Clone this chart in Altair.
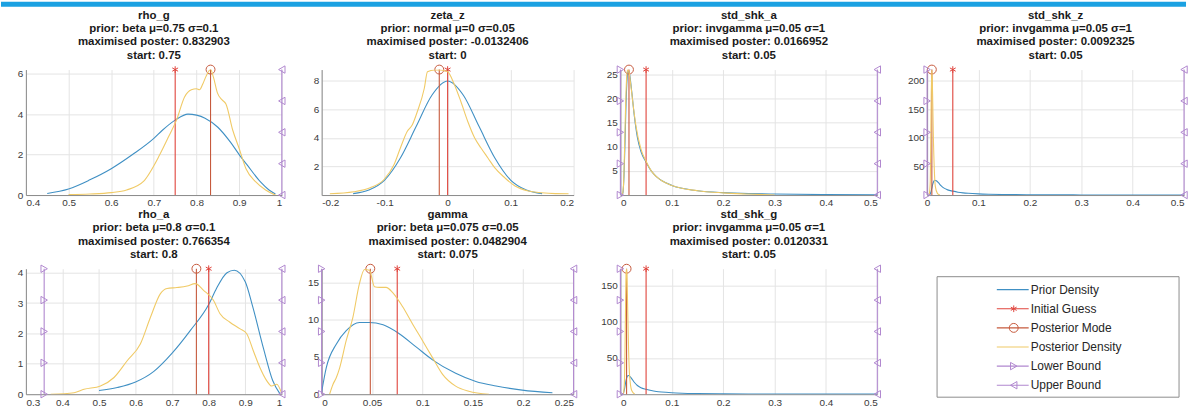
import altair as alt
import pandas as pd

# ------------------------------------------------------------------ data
PANEL_TITLES = [
    ["rho_g", "prior: beta μ=0.75 σ=0.1", "maximised poster: 0.832903", "start: 0.75"],
    ["zeta_z", "prior: normal μ=0 σ=0.05", "maximised poster: -0.0132406", "start: 0"],
    ["std_shk_a", "prior: invgamma μ=0.05 σ=1", "maximised poster: 0.0166952", "start: 0.05"],
    ["std_shk_z", "prior: invgamma μ=0.05 σ=1", "maximised poster: 0.0092325", "start: 0.05"],
    ["rho_a", "prior: beta μ=0.8 σ=0.1", "maximised poster: 0.766354", "start: 0.8"],
    ["gamma", "prior: beta μ=0.075 σ=0.05", "maximised poster: 0.0482904", "start: 0.075"],
    ["std_shk_g", "prior: invgamma μ=0.05 σ=1", "maximised poster: 0.0120331", "start: 0.05"],
]

# rho_g
RHO_G_PRIOR_X = [0.45, 0.5, 0.55, 0.6, 0.65, 0.7, 0.72, 0.75, 0.78, 0.8, 0.82, 0.85, 0.88, 0.9, 0.92, 0.95, 0.97, 0.985]
RHO_G_PRIOR_Y = [0.08, 0.3, 0.75, 1.3, 2.0, 2.8, 3.2, 3.7, 4.0, 3.95, 3.8, 3.35, 2.6, 2.0, 1.45, 0.65, 0.25, 0.05]
RHO_G_POST_X = [0.5, 0.55, 0.6, 0.636, 0.675, 0.714, 0.735, 0.753, 0.772, 0.788, 0.8, 0.807, 0.815, 0.823,
                0.833, 0.84, 0.849, 0.86, 0.869, 0.885, 0.9, 0.916, 0.939, 0.962, 0.985]
RHO_G_POST_Y = [0.02, 0.05, 0.12, 0.25, 0.66, 2.0, 2.9, 3.7, 4.85, 5.2, 5.25, 5.2, 5.5, 5.9,
                6.2, 5.8, 5.05, 4.7, 4.5, 3.2, 2.3, 1.3, 0.65, 0.25, 0.0]

# zeta_z
ZETA_Z_PRIOR_X = [-0.15, -0.125, -0.1, -0.075, -0.05, -0.025, 0.0, 0.025, 0.05, 0.075, 0.1, 0.125, 0.15]
ZETA_Z_PRIOR_Y = [0.1, 0.35, 1.05, 2.6, 4.8, 7.0, 8.0, 7.0, 4.8, 2.6, 1.05, 0.35, 0.1]
ZETA_Z_POST_X = [-0.187, -0.149, -0.123, -0.101, -0.085, -0.075, -0.064, -0.056, -0.048, -0.037, -0.032,
                 -0.021, -0.011, 0.0, 0.011, 0.021, 0.032, 0.043, 0.053, 0.064, 0.075, 0.091, 0.107,
                 0.128, 0.149, 0.171, 0.192]
ZETA_Z_POST_Y = [0.09, 0.23, 0.51, 1.09, 2.14, 3.3, 4.47, 4.93, 5.86, 7.49, 8.65,
                 8.77, 8.77, 8.65, 7.72, 6.56, 5.16, 4.0, 3.3, 2.6, 1.9, 1.2, 0.63,
                 0.28, 0.16, 0.1, 0.09]

# inverse-gamma prior (same for the three shock std devs)
IG_PRIOR_X = [0.003, 0.005, 0.007, 0.009, 0.011, 0.013, 0.015, 0.018, 0.022, 0.027, 0.033, 0.04, 0.05,
              0.06, 0.07, 0.08, 0.1, 0.12, 0.15, 0.2, 0.25, 0.3, 0.4, 0.5]
IG_PRIOR_Y = [0.0, 0.5, 4.0, 11.0, 19.0, 24.0, 25.8, 25.0, 21.5, 16.5, 12.0, 9.0, 6.8,
              5.0, 3.8, 3.0, 2.0, 1.4, 0.9, 0.5, 0.3, 0.2, 0.1, 0.06]

STD_SHK_A_POST_X = [0.004, 0.006, 0.008, 0.01, 0.012, 0.014, 0.0167, 0.02, 0.025, 0.03, 0.04, 0.05, 0.06,
                    0.08, 0.1, 0.15, 0.2, 0.25, 0.3]
STD_SHK_A_POST_Y = [0.0, 2.0, 9.0, 18.0, 24.0, 26.0, 25.5, 23.0, 18.5, 14.5, 9.5, 7.0, 5.0,
                    3.0, 2.0, 0.9, 0.45, 0.2, 0.0]

STD_SHK_Z_POST_X = [0.004, 0.006, 0.007, 0.008, 0.0092, 0.010, 0.011, 0.012, 0.014, 0.016, 0.02, 0.025]
STD_SHK_Z_POST_Y = [0.0, 20.0, 80.0, 170.0, 219.0, 205.0, 160.0, 110.0, 45.0, 15.0, 3.0, 0.0]

STD_SHK_G_POST_X = [0.006, 0.008, 0.009, 0.010, 0.011, 0.012, 0.013, 0.014, 0.016, 0.018, 0.022, 0.028]
STD_SHK_G_POST_Y = [0.0, 20.0, 60.0, 120.0, 165.0, 173.0, 160.0, 125.0, 60.0, 25.0, 5.0, 0.0]

# rho_a
RHO_A_PRIOR_X = [0.5, 0.55, 0.6, 0.65, 0.7, 0.75, 0.8, 0.82, 0.85, 0.87, 0.9, 0.92, 0.95, 0.975, 0.995]
RHO_A_PRIOR_Y = [0.12, 0.22, 0.4, 0.75, 1.35, 2.1, 2.95, 3.45, 4.0, 4.08, 3.7, 2.9, 1.5, 0.45, 0.01]
RHO_A_POST_X = [0.368, 0.432, 0.459, 0.504, 0.541, 0.577, 0.613, 0.641, 0.668, 0.686, 0.713, 0.741,
                0.763, 0.786, 0.813, 0.831, 0.858, 0.886, 0.904, 0.922, 0.94, 0.959, 0.972, 0.986, 1.0]
RHO_A_POST_Y = [0.0, 0.05, 0.16, 0.27, 0.55, 1.1, 1.65, 2.54, 3.31, 3.48, 3.51, 3.56,
                3.64, 3.42, 3.09, 2.65, 2.37, 2.15, 1.99, 1.43, 0.88, 0.44, 0.27, 0.33, 0.02]

# gamma
GAMMA_PRIOR_X = [0.0, 0.0046, 0.0145, 0.0244, 0.0375, 0.047, 0.061, 0.077, 0.094, 0.11, 0.133, 0.153,
                 0.173, 0.199, 0.229]
GAMMA_PRIOR_Y = [0.3, 3.55, 6.7, 8.5, 9.6, 9.6, 9.3, 8.1, 6.3, 4.6, 2.8, 1.7, 1.1, 0.55, 0.2]
GAMMA_POST_X = [0.0079, 0.0112, 0.0145, 0.0178, 0.0244, 0.031, 0.0375, 0.0425, 0.0474, 0.0524, 0.0573,
                0.0639, 0.0705, 0.0804, 0.0902, 0.1, 0.11, 0.12, 0.133, 0.146, 0.166]
GAMMA_POST_Y = [0.0, 1.3, 2.2, 3.5, 7.2, 10.3, 14.8, 16.7, 16.6, 14.4, 14.3,
                14.3, 13.6, 11.7, 9.4, 7.2, 4.9, 2.66, 1.08, 0.4, 0.0]

# vertical markers: start value, posterior mode, lower / upper bound
INIT_VALUES = [0.75, 0.0, 0.05, 0.05, 0.8, 0.075, 0.05]
MODE_VALUES = [0.832903, -0.0132406, 0.0166952, 0.0092325, 0.766354, 0.0482904, 0.0120331]
LOWER_BOUNDS = [None, None, 0.0, 0.0, 0.35, 0.0, 0.0]
UPPER_BOUNDS = [1.0, None, 0.5, 0.5, 1.0, 0.25, 0.5]

# axes
X_DOMAINS = [[0.4, 1.0], [-0.2, 0.2], [0.0, 0.5], [0.0, 0.5], [0.3, 1.0], [0.0, 0.25], [0.0, 0.5]]
X_TICKS = [
    [0.4, 0.5, 0.6, 0.7, 0.8, 0.9, 1.0],
    [-0.2, -0.1, 0.0, 0.1, 0.2],
    [0.0, 0.1, 0.2, 0.3, 0.4, 0.5],
    [0.0, 0.1, 0.2, 0.3, 0.4, 0.5],
    [0.3, 0.4, 0.5, 0.6, 0.7, 0.8, 0.9, 1.0],
    [0.0, 0.05, 0.1, 0.15, 0.2, 0.25],
    [0.0, 0.1, 0.2, 0.3, 0.4, 0.5],
]
Y_MAX = [6.2, 8.8, 26.0, 219.0, 4.13, 16.8, 173.0]
Y_TICKS = [
    [0, 2, 4, 6],
    [2, 4, 6, 8],
    [5, 10, 15, 20, 25],
    [50, 100, 150, 200],
    [0, 1, 2, 3, 4],
    [0, 5, 10, 15],
    [50, 100, 150],
]

LEGEND_LABELS = ["Prior Density", "Initial Guess", "Posterior Mode",
                 "Posterior Density", "Lower Bound", "Upper Bound"]

# ------------------------------------------------------------------ style
FONT = "Liberation Sans"
C_PRIOR = "#4090c4"
C_POST = "#f0ca66"
C_INIT = "#e0443c"
C_MODE = "#c65a3d"
C_BOUND = "#b087cf"
C_BAR = "#1ba1e2"
STAR = "M0,-1L0,1M-0.87,-0.5L0.87,0.5M-0.87,0.5L0.87,-0.5"
LW = 1.1
COL_W = [257, 40, 253, 47, 258, 50, 258]   # grid column widths (panels and gaps)
PANEL_H = 126
ROW_GAP = 74
FIRST_PLOT_LEFT = 25
FIRST_PLOT_TOP = 68
BAR_H = 5
PAGE_W = 1190
LEG_BOX = (10, 253, 8, 129)       # legend frame inside its cell
LEG_LINE = (70, 102)              # sample line
LEG_MARK_X = 87
LEG_TEXT_X = 104
LEG_ROWS = [21, 117]
MARKER_FRACTIONS = [0.0, 0.25, 0.5, 0.75, 1.0]
LABEL_EXPR = "replace(format(datum.value, '~g'), '\u2212', '-')"

PRIORS = [
    (RHO_G_PRIOR_X, RHO_G_PRIOR_Y), (ZETA_Z_PRIOR_X, ZETA_Z_PRIOR_Y), (IG_PRIOR_X, IG_PRIOR_Y),
    (IG_PRIOR_X, IG_PRIOR_Y), (RHO_A_PRIOR_X, RHO_A_PRIOR_Y), (GAMMA_PRIOR_X, GAMMA_PRIOR_Y),
    (IG_PRIOR_X, IG_PRIOR_Y),
]
POSTS = [
    (RHO_G_POST_X, RHO_G_POST_Y), (ZETA_Z_POST_X, ZETA_Z_POST_Y), (STD_SHK_A_POST_X, STD_SHK_A_POST_Y),
    (STD_SHK_Z_POST_X, STD_SHK_Z_POST_Y), (RHO_A_POST_X, RHO_A_POST_Y), (GAMMA_POST_X, GAMMA_POST_Y),
    (STD_SHK_G_POST_X, STD_SHK_G_POST_Y),
]
PANEL_COL = [0, 2, 4, 6, 0, 2, 4]

DUMMY = pd.DataFrame({"a": [0]})


def make_panel(i):
    xdom = X_DOMAINS[i]
    ymax = Y_MAX[i]
    xaxis_kw = dict(values=X_TICKS[i], title="", labelExpr=LABEL_EXPR, grid=True, labelOverlap=False)
    if i == 3:
        xaxis_kw["labelAlign"] = {"condition": {"test": "datum.value >= 0.5", "value": "right"},
                                  "value": "center"}
    xaxis = alt.Axis(**xaxis_kw)
    yaxis = alt.Axis(values=Y_TICKS[i], title="", labelExpr=LABEL_EXPR, grid=True, labelOverlap=False)

    def X(f):
        return alt.X(f"{f}:Q", scale=alt.Scale(domain=xdom, nice=False, zero=False), axis=xaxis)

    def Y(f):
        return alt.Y(f"{f}:Q", scale=alt.Scale(domain=[0, ymax], nice=False, zero=False), axis=yaxis)

    layers = []
    px, py = PRIORS[i]
    layers.append(alt.Chart(pd.DataFrame({"x": px, "y": py})).mark_line(
        color=C_PRIOR, strokeWidth=LW, interpolate="monotone", clip=True).encode(x=X("x"), y=Y("y")))

    def vline(v, color):
        return alt.Chart(pd.DataFrame({"v": [v], "y0": [0.0], "y1": [ymax]})).mark_rule(
            color=color, strokeWidth=LW).encode(x=X("v"), y=Y("y0"), y2=alt.Y2("y1"))

    def marks(v, ys, shape, color, size):
        return alt.Chart(pd.DataFrame({"v": [v] * len(ys), "y": ys})).mark_point(
            shape=shape, filled=False, color=color, size=size, strokeWidth=1, opacity=1).encode(
            x=X("v"), y=Y("y"))

    layers.append(vline(INIT_VALUES[i], C_INIT))
    layers.append(marks(INIT_VALUES[i], [ymax], STAR, C_INIT, 45))
    layers.append(vline(MODE_VALUES[i], C_MODE))
    layers.append(marks(MODE_VALUES[i], [ymax], "circle", C_MODE, 80))

    qx, qy = POSTS[i]
    layers.append(alt.Chart(pd.DataFrame({"x": qx, "y": qy})).mark_line(
        color=C_POST, strokeWidth=LW, interpolate="monotone", clip=True).encode(x=X("x"), y=Y("y")))

    bys = [f * ymax for f in MARKER_FRACTIONS]
    if LOWER_BOUNDS[i] is not None:
        layers.append(vline(LOWER_BOUNDS[i], C_BOUND))
        layers.append(marks(LOWER_BOUNDS[i], bys, "triangle-right", C_BOUND, 55))
    if UPPER_BOUNDS[i] is not None:
        layers.append(vline(UPPER_BOUNDS[i], C_BOUND))
        layers.append(marks(UPPER_BOUNDS[i], bys, "triangle-left", C_BOUND, 55))

    return alt.layer(*layers).properties(
        width=COL_W[PANEL_COL[i]], height=PANEL_H,
        title=alt.TitleParams(text=PANEL_TITLES[i], font=FONT, fontSize=11.5, fontWeight="bold",
                              lineHeight=13.3, offset=2, anchor="middle", frame="group",
                              color="#1a1a1a"))


def spacer(w):
    return alt.Chart(DUMMY).mark_point(opacity=0).encode(
        x=alt.value(0), y=alt.value(0)).properties(width=w, height=PANEL_H)


def make_legend():
    colors = [C_PRIOR, C_INIT, C_MODE, C_POST, C_BOUND, C_BOUND]
    shapes = [None, STAR, "circle", None, "triangle-right", "triangle-left"]
    sizes = [0, 45, 80, 0, 55, 55]
    df = pd.DataFrame({"label": LEGEND_LABELS})
    ly = alt.Y("label:N", sort=LEGEND_LABELS,
               scale=alt.Scale(type="point", domain=LEGEND_LABELS, range=LEG_ROWS, padding=0),
               axis=None)
    lcol = alt.Color("label:N", scale=alt.Scale(domain=LEGEND_LABELS, range=colors), legend=None)

    # page-wide cyan strip at the very top of the screenshot (drawn from this
    # title-less cell so that it does not push any panel title)
    cell_left = FIRST_PLOT_LEFT + sum(COL_W[:6])
    cell_top = FIRST_PLOT_TOP + PANEL_H + ROW_GAP
    bar = alt.Chart(DUMMY).mark_rect(color=C_BAR).encode(
        x=alt.value(-cell_left), x2=alt.value(PAGE_W - cell_left),
        y=alt.value(-cell_top), y2=alt.value(-cell_top + BAR_H))

    box = alt.Chart(DUMMY).mark_rect(fill="white", stroke="#8c8c8c", strokeWidth=1).encode(
        x=alt.value(LEG_BOX[0]), x2=alt.value(LEG_BOX[1]),
        y=alt.value(LEG_BOX[2]), y2=alt.value(LEG_BOX[3]))
    lines = alt.Chart(df).mark_rule(strokeWidth=LW).encode(
        x=alt.value(LEG_LINE[0]), x2=alt.value(LEG_LINE[1]), y=ly, color=lcol)
    pts = []
    for lab, col, shp, sz in zip(LEGEND_LABELS, colors, shapes, sizes):
        if shp is None:
            continue
        pts.append(alt.Chart(pd.DataFrame({"label": [lab]})).mark_point(
            shape=shp, filled=False, color=col, size=sz, strokeWidth=1, opacity=1).encode(
            x=alt.value(LEG_MARK_X), y=ly))
    texts = alt.Chart(df).mark_text(align="left", baseline="middle", font=FONT, fontSize=12,
                                    color="#262626").encode(
        x=alt.value(LEG_TEXT_X), y=ly, text="label:N")
    return alt.layer(bar, box, lines, *pts, texts).properties(width=COL_W[6], height=PANEL_H)


cells = [
    make_panel(0), spacer(COL_W[1]), make_panel(1), spacer(COL_W[3]),
    make_panel(2), spacer(COL_W[5]), make_panel(3),
    make_panel(4), spacer(COL_W[1]), make_panel(5), spacer(COL_W[3]),
    make_panel(6), spacer(COL_W[5]), make_legend(),
]

chart = alt.concat(
    *cells, columns=7, spacing={"row": ROW_GAP, "column": 0},
    align="each", bounds="flush",
).properties(padding=0, background="white").configure_view(
    stroke="transparent"
).configure_axis(
    labelFont=FONT, labelFontSize=10, labelColor="#3a3a3a", domainColor="#8a8a8a", domainWidth=1,
    gridColor="#e4e4e4", gridWidth=1, ticks=False, labelPadding=3,
)

chart.save("out.html", embed_options={"renderer": "svg", "actions": False})
